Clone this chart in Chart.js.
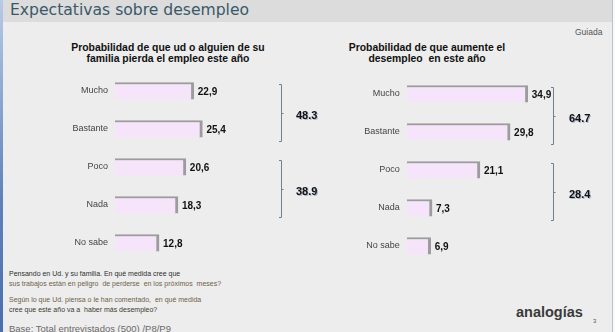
<!DOCTYPE html>
<html lang="es">
<head>
<meta charset="utf-8">
<script src="https://cdn.jsdelivr.net/npm/chart.js@4/dist/chart.umd.min.js"></script>
<style>
  html, body { margin: 0; padding: 0; }
  body {
    width: 615px; height: 332px; overflow: hidden; position: relative;
    background: #ededed; font-family: "Liberation Sans", Arial, sans-serif;
  }
  .barra-titulo {
    position: absolute; left: 0; top: 0; width: 615px; height: 22px;
    background: #dcdcdc;
  }
  .titulo {
    position: absolute; left: 10px; top: 1px; font-family: "DejaVu Sans", sans-serif;
    font-size: 15.6px; color: #3a5869; white-space: nowrap;
  }
  .franja { position: absolute; left: 0; top: 0; width: 3px; height: 332px;
    background: linear-gradient(#b7cbe6, #5d82bd 60%, #4a6fae); }
  .borde-der { position: absolute; left: 612px; top: 0; width: 1px; height: 332px; background: #b9c2cc; }
  .blanco-der { position: absolute; left: 613px; top: 0; width: 2px; height: 332px; background: #fafafa; }
  .guiada { position: absolute; left: 575px; top: 27px; font-size: 8.5px; color: #555; }
  .subtitulo {
    position: absolute; top: 42px; width: 260px; text-align: center;
    font-weight: bold; font-size: 10.4px; line-height: 11.3px; color: #111;
  }
  canvas { position: absolute; }
  .nota { position: absolute; left: 9px; font-size: 7px; line-height: 10px; white-space: nowrap; }
  .logo { position: absolute; left: 516px; top: 304px; font-weight: bold; font-size: 14.5px; color: #3a3a3a; }
  .pagina { position: absolute; left: 593px; top: 318px; font-size: 6px; color: #555; }
</style>
</head>
<body>
<div class="barra-titulo"></div>
<div class="titulo">Expectativas sobre desempleo</div>
<div class="franja"></div>
<div class="borde-der"></div>
<div class="blanco-der"></div>
<div class="guiada">Guiada</div>

<div class="subtitulo" style="left:38px">Probabilidad de que ud o alguien de su<br>familia pierda el empleo este año</div>
<div class="subtitulo" style="left:297px">Probabilidad de que aumente el<br>desempleo&nbsp; en este año</div>

<canvas id="grafico-pierda" width="330" height="196" style="left:0;top:70px"></canvas>
<canvas id="grafico-aumente" width="315" height="196" style="left:300px;top:70px"></canvas>

<div class="nota" style="top:269px;color:#2e2e2e">Pensando en Ud. y su familia. En qué medida cree que</div>
<div class="nota" style="top:279px;color:#6d6148">sus trabajos están en peligro&nbsp; de perderse&nbsp; en los próximos&nbsp; meses?</div>
<div class="nota" style="top:295px;color:#6d6148">Según lo que Ud. piensa o le han comentado,&nbsp; en qué medida</div>
<div class="nota" style="top:305px;color:#3e3a30">cree que este año va a&nbsp; haber más desempleo?</div>
<div class="nota" style="top:324px;color:#6a6a6a;font-size:9.5px">Base: Total entrevistados (500) /P8/P9</div>

<div class="logo">analogías</div>
<div class="pagina">3</div>

<script>
// datos de las dos preguntas
const categorias = ['Mucho', 'Bastante', 'Poco', 'Nada', 'No sabe'];
const pierdaEmpleo = [22.9, 25.4, 20.6, 18.3, 12.8];
const aumenteDesempleo = [34.9, 29.8, 21.1, 7.3, 6.9];
// categorias que se suman en cada llave (indices)
const grupos = [[0, 1], [2, 3]];
const escalaMax = 50;

const fmtComa = v => v.toFixed(1).replace('.', ',');

// etiqueta con el valor al final de cada barra
const etiquetasValor = {
  id: 'etiquetasValor',
  afterDatasetsDraw(chart) {
    const ctx = chart.ctx;
    const meta = chart.getDatasetMeta(0);
    const data = chart.data.datasets[0].data;
    ctx.save();
    ctx.font = 'bold 10px "Liberation Sans", Arial, sans-serif';
    ctx.fillStyle = '#111';
    ctx.textAlign = 'left';
    ctx.textBaseline = 'middle';
    meta.data.forEach((bar, i) => {
      ctx.fillText(fmtComa(data[i]), bar.x + 4, bar.y + 1);
    });
    ctx.restore();
  }
};

// llaves laterales con el total de cada grupo
const llaves = {
  id: 'llaves',
  afterDraw(chart, args, opts) {
    const ctx = chart.ctx;
    const y = chart.scales.y;
    const data = chart.data.datasets[0].data;
    ctx.save();
    grupos.forEach(g => {
      const top = y.getPixelForValue(g[0]) - 7;
      const bottom = y.getPixelForValue(g[g.length - 1]) + 13;
      const mid = (top + bottom) / 2;
      ctx.strokeStyle = '#6f8191';
      ctx.lineWidth = 1;
      ctx.beginPath();
      ctx.moveTo(opts.x - 2, top + 0.5);
      ctx.lineTo(opts.x + 0.5, top + 0.5);
      ctx.lineTo(opts.x + 0.5, bottom - 0.5);
      ctx.lineTo(opts.x - 2, bottom - 0.5);
      ctx.moveTo(opts.x + 0.5, mid + 0.5);
      ctx.lineTo(opts.x + 2.5, mid + 0.5);
      ctx.stroke();

      const total = g.reduce((acc, i) => acc + data[i], 0);
      ctx.font = 'bold 11px "Liberation Sans", Arial, sans-serif';
      ctx.textAlign = 'left';
      ctx.textBaseline = 'middle';
      ctx.fillStyle = 'rgba(60, 90, 150, 0.35)';
      ctx.fillText(total.toFixed(1), opts.labelX + 1, mid + 3.5);
      ctx.fillStyle = '#111';
      ctx.fillText(total.toFixed(1), opts.labelX, mid + 2.5);
    });
    ctx.restore();
  }
};

function crearGrafico(canvasId, valores, anchoEje, padding, llaveX, totalX) {
  const canvas = document.getElementById(canvasId);
  return new Chart(canvas.getContext('2d'), {
    type: 'bar',
    data: {
      labels: categorias,
      datasets: [{
        data: valores,
        backgroundColor: '#f6e4fb',
        borderColor: '#9c9c9c',
        borderWidth: { top: 2, right: 3, bottom: 0, left: 0 },
        borderSkipped: false,
        barThickness: 17
      }]
    },
    options: {
      indexAxis: 'y',
      responsive: false,
      animation: false,
      layout: { padding: padding },
      plugins: {
        legend: { display: false },
        tooltip: { enabled: false },
        llaves: { x: llaveX, labelX: totalX }
      },
      scales: {
        x: { display: false, min: 0, max: escalaMax },
        y: {
          grid: { display: false, drawTicks: false },
          border: { display: false },
          ticks: {
            padding: 7,
            color: '#444',
            font: { family: '"Liberation Sans", Arial, sans-serif', size: 9 }
          },
          afterFit: scale => {
            // ancho fijo del eje y sin el relleno extra arriba/abajo
            scale.width = anchoEje;
            scale.paddingTop = 0;
            scale.paddingBottom = 0;
          }
        }
      }
    },
    plugins: [etiquetasValor, llaves]
  });
}

crearGrafico('grafico-pierda', pierdaEmpleo, 115,
  { top: 2, bottom: 4, left: 0, right: 43 }, 281, 296);
crearGrafico('grafico-aumente', aumenteDesempleo, 106.7,
  { top: 5, bottom: 1, left: 0, right: 34.8 }, 253, 269);
</script>
</body>
</html>
